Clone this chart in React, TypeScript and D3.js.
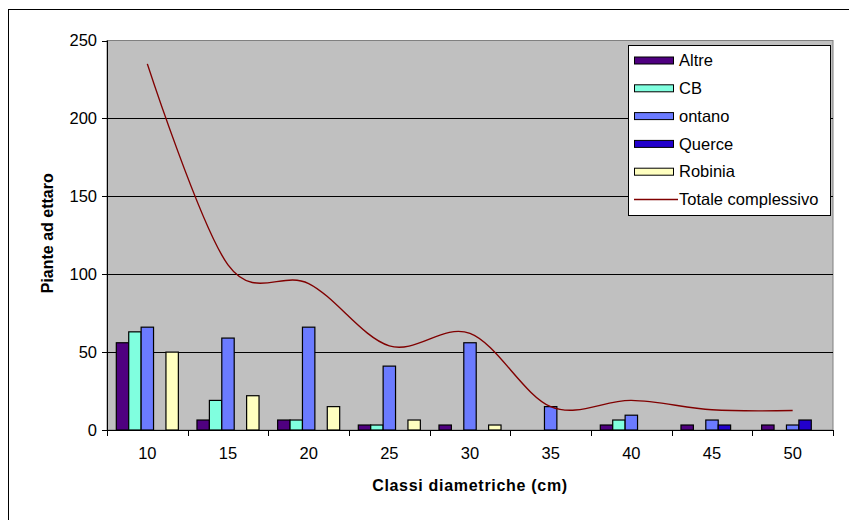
import React from 'react';
import * as d3 from 'd3';

const categories = ['10', '15', '20', '25', '30', '35', '40', '45', '50'];
const seriesNames = ['Altre', 'CB', 'ontano', 'Querce', 'Robinia'];
const altre = [56, 6.4, 6.4, 3.2, 3.2, 0, 3.2, 3.2, 3.2];
const cb = [63, 19, 6.4, 3.2, 0, 0, 6.4, 0, 0];
const ontano = [66, 59, 66, 41, 56, 15, 9.5, 6.4, 3.2];
const querce = [0, 0, 0, 0, 0, 0, 0, 3.2, 6.4];
const robinia = [50, 22, 15, 6.4, 3.2, 0, 0, 0, 0];
const totale = [235, 106, 94, 54, 62, 15, 19, 13, 12.5];
const totaleName = 'Totale complessivo';
const yTicks = [0, 50, 100, 150, 200, 250];
const seriesColors = ['#4f0080', '#80ffdf', '#6b7bff', '#2200cc', '#ffffc0'];
const lineColor = '#800000';

const W = 849;
const H = 520;
const plot = { left: 107, right: 833, top: 40.5, bottom: 430 };
const FONT = '"Liberation Sans", Arial, sans-serif';

export default function App() {
  const seriesData = [altre, cb, ontano, querce, robinia];
  const x = d3.scaleBand<string>().domain(categories).range([plot.left, plot.right]).padding(0);
  const y = d3.scaleLinear().domain([0, 250]).range([plot.bottom, plot.top]);
  const bw = x.bandwidth();
  const barW = bw / (seriesNames.length + 1.5);
  const groupOffset = (bw - barW * seriesNames.length) / 2;

  const line = d3
    .line<number>()
    .x((_, i) => (x(categories[i]) as number) + bw / 2)
    .y((d) => y(d))
    .curve(d3.curveCardinal.tension(0));

  const legendRows = [...seriesNames, totaleName];

  return (
    <svg
      width={W}
      height={H}
      style={{ position: 'absolute', left: 0, top: 0, display: 'block', background: '#fff' }}
      fontFamily={FONT}
    >
      {/* outer chart border */}
      <rect x={8.5} y={9.5} width={W} height={H} fill="#fff" stroke="#000" strokeWidth={1} />
      {/* plot area */}
      <rect
        x={plot.left}
        y={plot.top}
        width={plot.right - plot.left}
        height={plot.bottom - plot.top}
        fill="#c0c0c0"
        stroke="#808080"
        strokeWidth={1}
      />
      {/* gridlines */}
      {yTicks.filter((t) => t > 0 && t < 250).map((t) => (
        <line key={t} x1={plot.left} x2={plot.right} y1={Math.round(y(t)) + 0.5} y2={Math.round(y(t)) + 0.5} stroke="#000" strokeWidth={1} />
      ))}
      {/* bars */}
      {seriesData.map((vals, si) =>
        vals.map((v, ci) =>
          v > 0 ? (
            <rect
              key={`${si}-${ci}`}
              x={(x(categories[ci]) as number) + groupOffset + si * barW}
              y={y(v)}
              width={barW}
              height={plot.bottom - y(v)}
              fill={seriesColors[si]}
              stroke="#000"
              strokeWidth={1.2}
            />
          ) : null
        )
      )}
      {/* total line */}
      <path d={line(totale) || ''} fill="none" stroke={lineColor} strokeWidth={1.4} />
      {/* y axis */}
      <line x1={plot.left + 0.5} x2={plot.left + 0.5} y1={plot.top} y2={plot.bottom} stroke="#000" />
      {yTicks.map((t) => (
        <g key={t}>
          <line x1={plot.left - 5} x2={plot.left} y1={Math.round(y(t)) + 0.5} y2={Math.round(y(t)) + 0.5} stroke="#000" />
          <text x={97} y={y(t)} dy="0.35em" textAnchor="end" fontSize={16.5} fill="#000">
            {t}
          </text>
        </g>
      ))}
      {/* x axis */}
      <line x1={plot.left} x2={plot.right} y1={plot.bottom + 0.5} y2={plot.bottom + 0.5} stroke="#000" />
      {[...categories.map((c) => x(c) as number), plot.right].map((xx, i) => (
        <line key={i} x1={Math.round(xx) + 0.5} x2={Math.round(xx) + 0.5} y1={plot.bottom} y2={plot.bottom + 6} stroke="#000" />
      ))}
      {categories.map((c) => (
        <text key={c} x={(x(c) as number) + bw / 2} y={459} textAnchor="middle" fontSize={16.5} fill="#000">
          {c}
        </text>
      ))}
      {/* axis titles */}
      <text
        x={(plot.left + plot.right) / 2}
        y={491}
        textAnchor="middle"
        fontSize={16}
        fontWeight="bold"
        letterSpacing={0.7}
        fill="#000"
      >
        Classi diametriche (cm)
      </text>
      <text
        transform={`translate(53, ${(plot.top + plot.bottom) / 2 - 2}) rotate(-90)`}
        textAnchor="middle"
        fontSize={16}
        fontWeight="bold"
        fill="#000"
      >
        Piante ad ettaro
      </text>
      {/* legend */}
      <rect x={628.5} y={45.5} width={202} height={170} fill="#fff" stroke="#000" strokeWidth={1} />
      {legendRows.map((name, i) => {
        const cy = 60.5 + i * 27.8;
        return (
          <g key={name}>
            {i < seriesNames.length ? (
              <rect x={634.5} y={cy - 3.5} width={39} height={7} fill={seriesColors[i]} stroke="#000" strokeWidth={1} />
            ) : (
              <line x1={634} x2={678} y1={cy} y2={cy} stroke={lineColor} strokeWidth={1.4} />
            )}
            <text x={679} y={cy} dy="0.35em" fontSize={16.5} fill="#000">
              {name}
            </text>
          </g>
        );
      })}
    </svg>
  );
}
